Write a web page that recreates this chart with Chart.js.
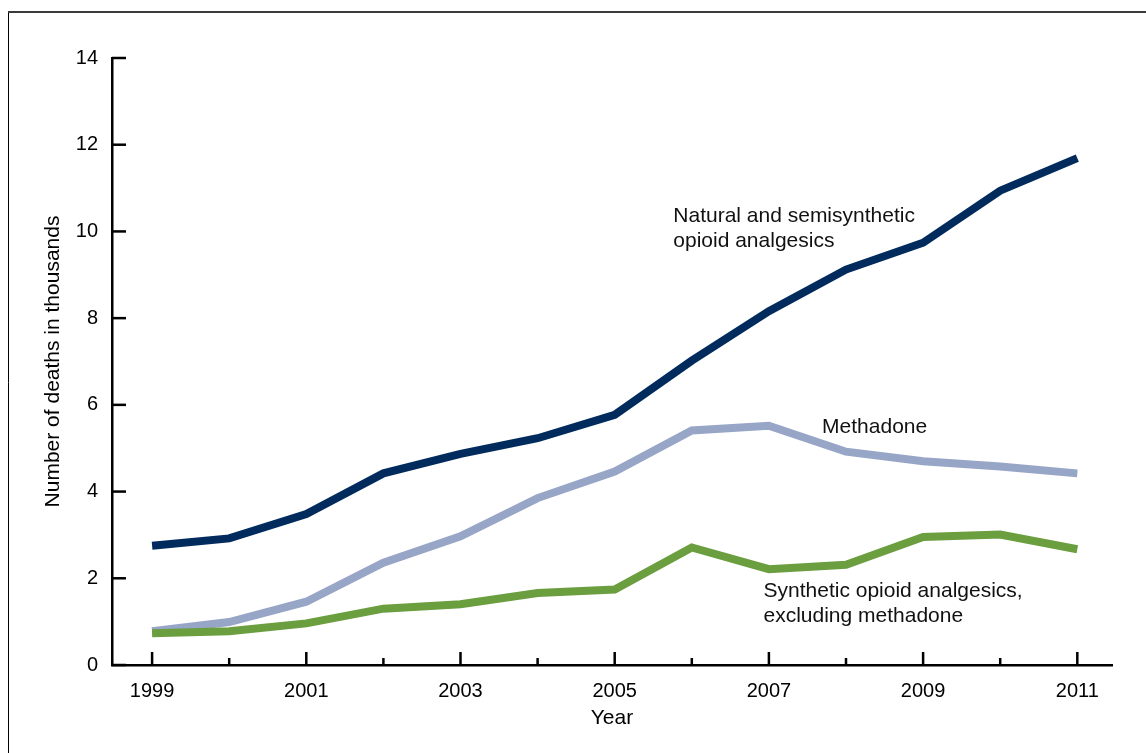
<!DOCTYPE html>
<html>
<head>
<meta charset="utf-8">
<script src="https://cdn.jsdelivr.net/npm/chart.js@4.4.1/dist/chart.umd.min.js"></script>
<style>
  html, body { margin: 0; padding: 0; background: #fff; }
  #wrap { position: relative; width: 1146px; height: 753px; }
  canvas { display: block; }
</style>
</head>
<body>
<div id="wrap"><canvas id="c" width="1146" height="753"></canvas></div>
<script>
// ---- data (deaths in thousands) ----
const years = [1999, 2000, 2001, 2002, 2003, 2004, 2005, 2006, 2007, 2008, 2009, 2010, 2011];
const naturalSemi = [2.75, 2.92, 3.48, 4.42, 4.87, 5.23, 5.77, 7.02, 8.16, 9.12, 9.74, 10.94, 11.69];
const methadone   = [0.78, 0.99, 1.46, 2.36, 2.97, 3.85, 4.46, 5.41, 5.52, 4.92, 4.70, 4.58, 4.42];
const synthetic   = [0.73, 0.78, 0.96, 1.30, 1.40, 1.66, 1.74, 2.71, 2.21, 2.31, 2.95, 3.01, 2.67];
const yTicks = [0, 2, 4, 6, 8, 10, 12, 14];
const xLabelYears = [1999, 2001, 2003, 2005, 2007, 2009, 2011];
const yTitle = 'Number of deaths in thousands';
const xTitle = 'Year';
const annotations = [
  { series: 'natural',   lines: ['Natural and semisynthetic', 'opioid analgesics'], at: [2005.76, 10.36] },
  { series: 'methadone', lines: ['Methadone'], at: [2007.69, 5.49] },
  { series: 'synthetic', lines: ['Synthetic opioid analgesics,', 'excluding methadone'], at: [2006.93, 1.70] }
];

const FONT = '"Liberation Sans", Arial, sans-serif';
const pts = arr => years.map((y, i) => ({ x: y, y: arr[i] }));

const decor = {
  id: 'decor',
  beforeDraw(chart) {
    const ctx = chart.ctx;
    ctx.save();
    ctx.fillStyle = '#fff';
    ctx.fillRect(0, 0, chart.width, chart.height);
    // frame
    ctx.strokeStyle = '#000';
    ctx.lineWidth = 1;
    ctx.beginPath(); ctx.moveTo(8.5, 12); ctx.lineTo(8.5, chart.height); ctx.stroke();
    ctx.strokeStyle = '#3a3a3a';
    ctx.lineWidth = 2;
    ctx.beginPath(); ctx.moveTo(8, 12); ctx.lineTo(chart.width, 12); ctx.stroke();
    ctx.restore();
  },
  afterDraw(chart) {
    const ctx = chart.ctx;
    const xs = chart.scales.x, ys = chart.scales.y;
    const ca = chart.chartArea;
    ctx.save();
    ctx.strokeStyle = '#000';
    ctx.lineWidth = 2.5;
    ctx.lineCap = 'butt';
    // inward y ticks
    ys.ticks.forEach(t => {
      const py = ys.getPixelForValue(t.value);
      ctx.beginPath(); ctx.moveTo(ca.left, py); ctx.lineTo(ca.left + 14, py); ctx.stroke();
    });
    // inward x ticks (major at labelled years, minor otherwise)
    xs.ticks.forEach(t => {
      const px = xs.getPixelForValue(t.value);
      const len = xLabelYears.includes(t.value) ? 13 : 7;
      ctx.beginPath(); ctx.moveTo(px, ca.bottom); ctx.lineTo(px, ca.bottom - len); ctx.stroke();
    });
    // annotations
    ctx.fillStyle = '#111';
    ctx.font = '21px ' + FONT;
    ctx.textAlign = 'left';
    ctx.textBaseline = 'middle';
    annotations.forEach(a => {
      const px = xs.getPixelForValue(a.at[0]);
      const py = ys.getPixelForValue(a.at[1]);
      a.lines.forEach((l, i) => ctx.fillText(l, px, py + i * 25));
    });
    ctx.restore();
  }
};

new Chart(document.getElementById('c'), {
  type: 'line',
  data: {
    datasets: [
      { label: 'Synthetic opioid analgesics, excluding methadone', data: pts(synthetic), borderColor: '#6a9e3f', order: 1 },
      { label: 'Methadone', data: pts(methadone), borderColor: '#97a5c6', order: 2 },
      { label: 'Natural and semisynthetic opioid analgesics', data: pts(naturalSemi), borderColor: '#012b5d', order: 0 }
    ]
  },
  options: {
    responsive: false,
    animation: false,
    devicePixelRatio: 1,
    layout: { padding: { left: 0, right: 34, top: 58, bottom: 0 } },
    elements: {
      line: { borderWidth: 8, tension: 0, borderJoinStyle: 'miter', borderCapStyle: 'butt', fill: false },
      point: { radius: 0, hoverRadius: 0 }
    },
    plugins: { legend: { display: false }, tooltip: { enabled: false } },
    scales: {
      x: {
        type: 'linear',
        min: 1998.48,
        max: 2011.45,
        afterBuildTicks: s => { s.ticks = years.map(v => ({ value: v })); },
        afterFit: s => { s.height = 88; },
        grid: { display: true, drawOnChartArea: false, drawTicks: false },
        border: { display: true, color: '#000', width: 2.5 },
        ticks: {
          autoSkip: false, maxRotation: 0, padding: 14, color: '#000',
          font: { family: FONT, size: 20 },
          callback: v => xLabelYears.includes(v) ? String(v) : ''
        },
        title: { display: true, text: xTitle, color: '#000', font: { family: FONT, size: 21 }, padding: { top: 0, bottom: 22 } }
      },
      y: {
        type: 'linear',
        min: 0,
        max: 14,
        afterBuildTicks: s => { s.ticks = yTicks.map(v => ({ value: v })); },
        afterFit: s => { s.width = 112; },
        grid: { display: true, drawOnChartArea: false, drawTicks: false },
        border: { display: true, color: '#000', width: 2.5 },
        ticks: { padding: 14, color: '#000', font: { family: FONT, size: 20 } },
        title: { display: true, text: yTitle, color: '#000', font: { family: FONT, size: 21 }, padding: { top: 41, bottom: 0 } }
      }
    }
  },
  plugins: [decor]
});
</script>
</body>
</html>
